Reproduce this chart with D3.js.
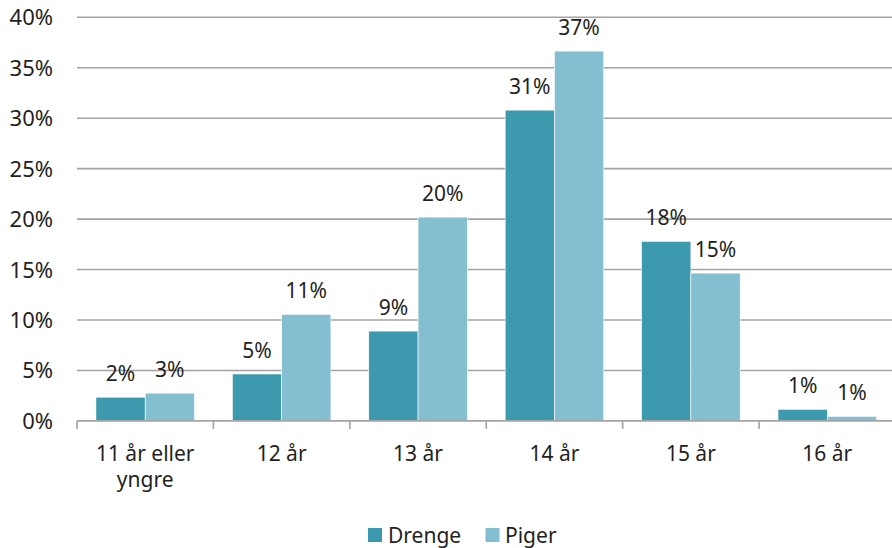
<!DOCTYPE html>
<html>
<head>
<meta charset="utf-8">
<script src="https://cdn.jsdelivr.net/npm/d3@7"></script>
<style>
  html, body { margin: 0; padding: 0; background: #fff; }
  svg { display: block; font-family: "Noto Sans", "Open Sans", sans-serif; }
</style>
</head>
<body>
<svg id="chart" width="892" height="548"></svg>
<script>
// Age at first time, share of boys and girls
const categories = [["11 år eller", "yngre"], ["12 år"], ["13 år"], ["14 år"], ["15 år"], ["16 år"]];
const seriesNames = ["Drenge", "Piger"];
const drenge = [2.35, 4.65, 8.9, 30.8, 17.8, 1.15];
const piger = [2.75, 10.55, 20.2, 36.65, 14.65, 0.45];
const drengeLabels = ["2%", "5%", "9%", "31%", "18%", "1%"];
const pigerLabels = ["3%", "11%", "20%", "37%", "15%", "1%"];
const yTicks = [0, 5, 10, 15, 20, 25, 30, 35, 40];
const colors = ["#3d9aae", "#84bfd1"];

const svg = d3.select("#chart");
const catKeys = categories.map((c, i) => i);

const x = d3.scaleBand().domain(catKeys).range([77, 895.5]).paddingInner(0).paddingOuter(0);
const y = d3.scaleLinear().domain([0, 40]).range([420.9, 17.3]);
const xs = d3.scaleBand().domain(seriesNames).range([0, x.bandwidth()]).paddingInner(0).paddingOuter(0.384);

// Gridlines
svg.append("g")
  .selectAll("line")
  .data(yTicks.filter(t => t > 0))
  .join("line")
  .attr("x1", 77).attr("x2", 892)
  .attr("y1", d => y(d)).attr("y2", d => y(d))
  .attr("stroke", "#a3a3a3").attr("stroke-width", 1.6);

// Y axis labels
svg.append("g")
  .selectAll("text")
  .data(yTicks)
  .join("text")
  .attr("x", 53).attr("y", d => y(d) + 8)
  .attr("text-anchor", "end")
  .attr("font-size", 22)
  .attr("fill", "#231f20")
  .text(d => d + "%");

// Bars
const rows = catKeys.map(i => ({ i, values: [drenge[i], piger[i]], labels: [drengeLabels[i], pigerLabels[i]] }));
const groups = svg.append("g")
  .selectAll("g")
  .data(rows)
  .join("g")
  .attr("transform", d => `translate(${x(d.i)},0)`);

groups.selectAll("rect")
  .data(d => d.values.map((v, k) => ({ v, k })))
  .join("rect")
  .attr("x", d => xs(seriesNames[d.k]))
  .attr("width", xs.bandwidth())
  .attr("y", d => y(d.v))
  .attr("height", d => y(0) - y(d.v))
  .attr("fill", d => colors[d.k])
  .attr("stroke", "#ffffff")
  .attr("stroke-width", 0.6);

groups.selectAll("text")
  .data(d => d.values.map((v, k) => ({ v, k, label: d.labels[k] })))
  .join("text")
  .attr("x", d => xs(seriesNames[d.k]) + xs.bandwidth() / 2)
  .attr("y", d => y(d.v) - 16)
  .attr("text-anchor", "middle")
  .attr("font-size", 21)
  .attr("fill", "#231f20")
  .text(d => d.label);

// X axis baseline and tick marks
const axis = svg.append("g");
axis.append("line")
  .attr("x1", 77).attr("x2", 892)
  .attr("y1", y(0)).attr("y2", y(0))
  .attr("stroke", "#a3a3a3").attr("stroke-width", 1.6);
axis.selectAll("line.tick")
  .data(catKeys.concat([categories.length]))
  .join("line")
  .attr("class", "tick")
  .attr("x1", d => d < categories.length ? x(d) : x(d - 1) + x.bandwidth())
  .attr("x2", d => d < categories.length ? x(d) : x(d - 1) + x.bandwidth())
  .attr("y1", y(0)).attr("y2", y(0) + 8)
  .attr("stroke", "#a3a3a3").attr("stroke-width", 1.6);

// Category labels
const catText = svg.append("g")
  .selectAll("text")
  .data(rows)
  .join("text")
  .attr("x", d => x(d.i) + x.bandwidth() / 2)
  .attr("y", 461)
  .attr("text-anchor", "middle")
  .attr("font-size", 21)
  .attr("fill", "#231f20");
catText.selectAll("tspan")
  .data(d => categories[d.i].map((line, j) => ({ line, j, cx: x(d.i) + x.bandwidth() / 2 })))
  .join("tspan")
  .attr("x", d => d.cx)
  .attr("dy", d => d.j === 0 ? 0 : 26)
  .text(d => d.line);

// Legend
const legendItems = [{ name: seriesNames[0], sx: 368, tx: 388 }, { name: seriesNames[1], sx: 485.5, tx: 505 }];
const legend = svg.append("g");
legend.selectAll("rect")
  .data(legendItems)
  .join("rect")
  .attr("x", d => d.sx).attr("y", 528)
  .attr("width", 14).attr("height", 14)
  .attr("fill", (d, i) => colors[i]);
legend.selectAll("text")
  .data(legendItems)
  .join("text")
  .attr("x", d => d.tx).attr("y", 543)
  .attr("font-size", 21)
  .attr("fill", "#231f20")
  .text(d => d.name);
</script>
</body>
</html>
